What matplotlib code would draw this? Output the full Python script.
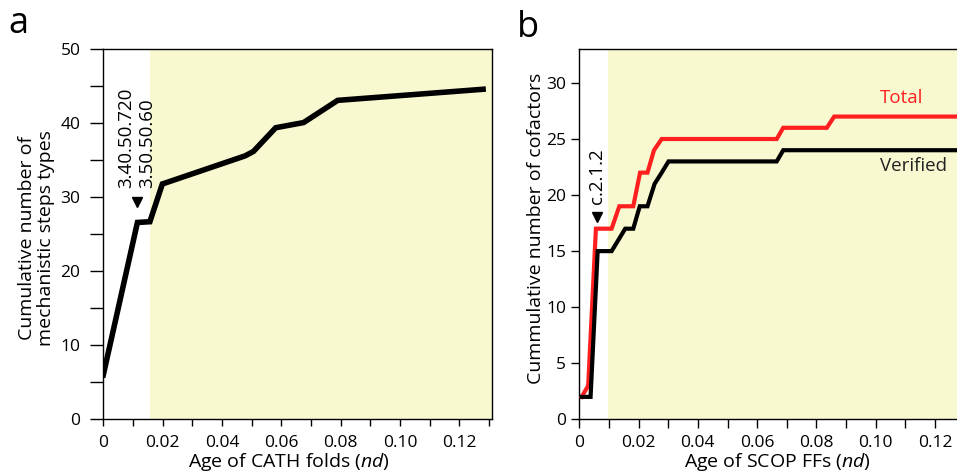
import matplotlib
matplotlib.use("Agg")
import matplotlib.pyplot as plt
from matplotlib.ticker import MultipleLocator, FuncFormatter

plt.rcParams['font.family'] = ['Open Sans', 'DejaVu Sans']
plt.rcParams['mathtext.fontset'] = 'custom'
plt.rcParams['mathtext.it'] = 'Open Sans:italic'
plt.rcParams['mathtext.rm'] = 'Open Sans'

# ---- data: panel a (CATH folds) ----
cath_age = [0.0, 0.0115, 0.0157, 0.0199, 0.0478, 0.0506, 0.0581, 0.0675, 0.079, 0.128]
cath_steps = [6.0, 26.6, 26.7, 31.8, 35.6, 36.2, 39.4, 40.1, 43.1, 44.6]

# ---- data: panel b (SCOP FFs) ----
scop_total_age = [0.0008, 0.003, 0.0056, 0.0109, 0.0135, 0.0182, 0.0205, 0.0230,
                  0.0252, 0.0278, 0.0666, 0.0688, 0.0835, 0.086, 0.135]
scop_total = [2, 3, 17, 17, 19, 19, 22, 22, 24, 25, 25, 26, 26, 27, 27]
scop_ver_age = [0.0008, 0.0038, 0.0062, 0.0109, 0.0155, 0.0182, 0.0204, 0.0230,
                0.0254, 0.0278, 0.0301, 0.0666, 0.0688, 0.135]
scop_ver = [2, 2, 15, 15, 17, 17, 19, 19, 21, 22, 23, 23, 24, 24]

yellow = '#F8F9D1'
red = '#FF1F1F'

W, H = 957, 475
fig = plt.figure(figsize=(W / 100, H / 100), dpi=100)

def fmt(v, pos):
    return '0' if abs(v) < 1e-9 else f'{v:.2f}'

# ---------------- panel a ----------------
axa = fig.add_axes([103.3 / W, 1 - 419.3 / H, 388.7 / W, 370 / H])
axa.set_xlim(0, 0.131)
axa.set_ylim(0, 50)
axa.axvspan(0.0157, 0.131, color=yellow, lw=0, zorder=0)
axa.plot(cath_age, cath_steps, color='black', lw=4, solid_joinstyle='miter', zorder=3)
axa.plot([0.0114], [29.3], marker='v', color='black', ms=7, zorder=4)
axa.text(0.0076, 31.3, '3.40.50.720', rotation=90, ha='center', va='bottom', fontsize=13.5)
axa.text(0.0147, 31.3, '3.50.50.60', rotation=90, ha='center', va='bottom', fontsize=13.5)
axa.xaxis.set_major_locator(MultipleLocator(0.02))
axa.xaxis.set_minor_locator(MultipleLocator(0.01))
axa.xaxis.set_major_formatter(FuncFormatter(fmt))
axa.yaxis.set_major_locator(MultipleLocator(10))
axa.yaxis.set_minor_locator(MultipleLocator(5))
axa.tick_params(axis='x', which='both', length=5, width=1, pad=6, labelsize=12.5)
axa.tick_params(axis='y', which='both', length=9.5, width=1, pad=7, labelsize=12.5)
for s in axa.spines.values():
    s.set_linewidth(1)
axa.text(0.478, -0.115, r'Age of CATH folds ($\it{nd}$)', transform=axa.transAxes,
         ha='center', va='center', fontsize=14)
axa.text(-0.172, 0.49, 'Cumulative number of\nmechanistic steps types', transform=axa.transAxes,
         ha='center', va='center', rotation=90, fontsize=14, linespacing=1.05)
fig.text(18 / W, 1 - 24 / H, 'a', ha='center', va='center', fontsize=26)

# ---------------- panel b ----------------
axb = fig.add_axes([579.3 / W, 1 - 419.3 / H, 396 / W, 370 / H])
axb.set_xlim(0, 0.1336)
axb.set_ylim(0, 33)
axb.axvspan(0.0096, 0.1336, color=yellow, lw=0, zorder=0)
axb.plot(scop_total_age, scop_total, color=red, lw=3, solid_joinstyle='miter', zorder=3)
axb.plot(scop_ver_age, scop_ver, color='black', lw=3, solid_joinstyle='miter', zorder=4)
axb.plot([0.0059], [18.0], marker='v', color='black', ms=7, zorder=5)
axb.text(0.0059, 19.2, 'c.2.1.2', rotation=90, ha='center', va='bottom', fontsize=13.5)
axb.text(0.1088, 28.66, 'Total', color=red, ha='center', va='center', fontsize=13.5)
axb.text(0.1129, 22.6, 'Verified', color='#222222', ha='center', va='center', fontsize=13.5)
axb.xaxis.set_major_locator(MultipleLocator(0.02))
axb.xaxis.set_minor_locator(MultipleLocator(0.01))
axb.xaxis.set_major_formatter(FuncFormatter(fmt))
axb.yaxis.set_major_locator(MultipleLocator(5))
axb.tick_params(axis='x', which='both', length=6.5, width=1, pad=5, labelsize=12.5)
axb.tick_params(axis='y', which='both', length=6, width=1, pad=3.5, labelsize=12.5)
for s in axb.spines.values():
    s.set_linewidth(1)
axb.spines['right'].set_visible(False)
axb.text(0.5, -0.115, r'Age of SCOP FFs ($\it{nd}$)', transform=axb.transAxes,
         ha='center', va='center', fontsize=14)
axb.text(-0.11, 0.517, 'Cummulative number of cofactors', transform=axb.transAxes,
         ha='center', va='center', rotation=90, fontsize=14)
fig.text(527.7 / W, 1 - 28 / H, 'b', ha='center', va='center', fontsize=26)

fig.savefig('out.png', dpi=100)
